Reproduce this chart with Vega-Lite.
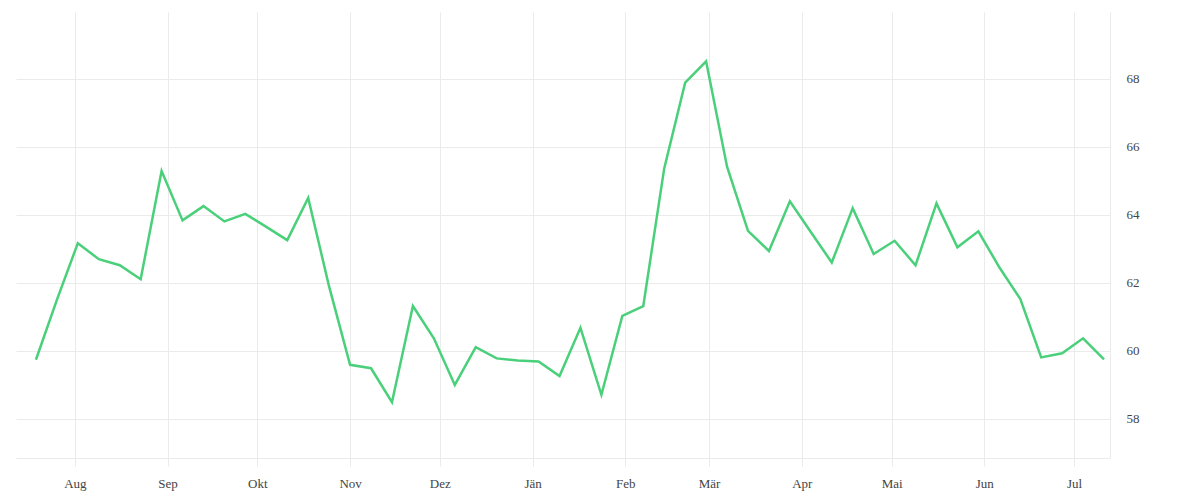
{
  "$schema": "https://vega.github.io/schema/vega-lite/v6.json",
  "width": 1094,
  "height": 446,
  "autosize": {"type": "none"},
  "padding": {"left": 16, "top": 12, "right": 90, "bottom": 42},
  "background": "white",
  "config": {
    "view": {"stroke": null},
    "axis": {"labelFont": "Liberation Serif", "labelFontSize": 13, "labelColor": "#444444", "gridColor": "#ebebeb", "gridWidth": 1, "domainColor": "#ebebeb", "tickColor": "#ebebeb", "title": null}
  },
  "data": {
    "values": [
      {"date": "2022-07-19", "value": 59.74},
      {"date": "2022-07-26", "value": 61.5},
      {"date": "2022-08-02", "value": 63.17},
      {"date": "2022-08-09", "value": 62.70},
      {"date": "2022-08-16", "value": 62.52},
      {"date": "2022-08-23", "value": 62.11},
      {"date": "2022-08-30", "value": 65.29},
      {"date": "2022-09-06", "value": 63.84},
      {"date": "2022-09-13", "value": 64.26},
      {"date": "2022-09-20", "value": 63.81},
      {"date": "2022-09-27", "value": 64.03},
      {"date": "2022-10-04", "value": 63.65},
      {"date": "2022-10-11", "value": 63.26},
      {"date": "2022-10-18", "value": 64.50},
      {"date": "2022-10-25", "value": 61.89},
      {"date": "2022-11-01", "value": 59.59},
      {"date": "2022-11-08", "value": 59.49},
      {"date": "2022-11-15", "value": 58.49},
      {"date": "2022-11-22", "value": 61.32},
      {"date": "2022-11-29", "value": 60.37},
      {"date": "2022-12-06", "value": 59.00},
      {"date": "2022-12-13", "value": 60.11},
      {"date": "2022-12-20", "value": 59.78},
      {"date": "2022-12-27", "value": 59.72},
      {"date": "2023-01-03", "value": 59.69},
      {"date": "2023-01-10", "value": 59.26},
      {"date": "2023-01-17", "value": 60.68},
      {"date": "2023-01-24", "value": 58.71},
      {"date": "2023-01-31", "value": 61.03},
      {"date": "2023-02-07", "value": 61.32},
      {"date": "2023-02-14", "value": 65.37},
      {"date": "2023-02-21", "value": 67.89},
      {"date": "2023-02-28", "value": 68.52},
      {"date": "2023-03-07", "value": 65.42},
      {"date": "2023-03-14", "value": 63.53},
      {"date": "2023-03-21", "value": 62.94},
      {"date": "2023-03-28", "value": 64.40},
      {"date": "2023-04-04", "value": 63.50},
      {"date": "2023-04-11", "value": 62.60},
      {"date": "2023-04-18", "value": 64.20},
      {"date": "2023-04-25", "value": 62.85},
      {"date": "2023-05-02", "value": 63.24},
      {"date": "2023-05-09", "value": 62.52},
      {"date": "2023-05-16", "value": 64.34},
      {"date": "2023-05-23", "value": 63.05},
      {"date": "2023-05-30", "value": 63.52},
      {"date": "2023-06-06", "value": 62.46},
      {"date": "2023-06-13", "value": 61.53},
      {"date": "2023-06-20", "value": 59.81},
      {"date": "2023-06-27", "value": 59.93},
      {"date": "2023-07-04", "value": 60.37},
      {"date": "2023-07-11", "value": 59.75}
    ]
  },
  "mark": {"type": "line", "color": "#4ad07a", "strokeWidth": 2.5, "strokeJoin": "miter"},
  "encoding": {
    "x": {
      "field": "date",
      "type": "temporal",
      "scale": {
        "type": "utc",
        "domain": [
          {"year": 2022, "month": 7, "date": 12, "hours": 8, "utc": true},
          {"year": 2023, "month": 7, "date": 13, "utc": true}
        ]
      },
      "axis": {
        "tickCount": {"interval": "month", "step": 1},
        "labelExpr": "['Jän','Feb','Mär','Apr','Mai','Jun','Jul','Aug','Sep','Okt','Nov','Dez'][utcmonth(datum.value)]",
        "tickSize": 8,
        "labelPadding": 11,
        "grid": true,
        "domain": true,
        "labelFlush": false
      }
    },
    "y": {
      "field": "value",
      "type": "quantitative",
      "scale": {"domain": [56.85, 69.97], "nice": false, "zero": false},
      "axis": {
        "orient": "right",
        "values": [58, 60, 62, 64, 66, 68],
        "ticks": false,
        "labelPadding": 16,
        "grid": true,
        "domain": true
      }
    }
  }
}
